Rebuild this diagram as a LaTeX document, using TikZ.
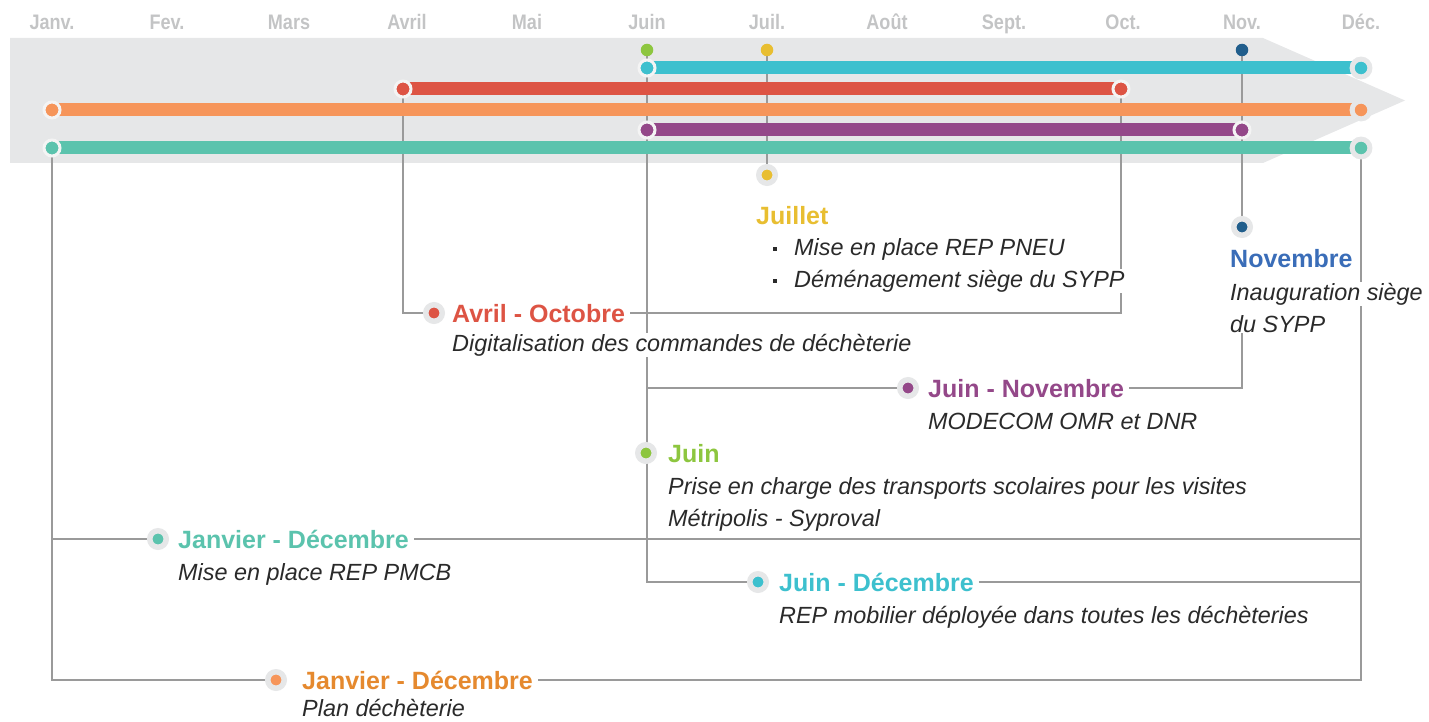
\documentclass[tikz,border=0pt]{standalone}
\usepackage{fontspec}
\setmainfont{Liberation Sans}
\newfontfamily\mfont[FakeStretch=0.86]{Liberation Sans}
\pgfdeclarelayer{bandl}
\pgfdeclarelayer{linel}
\pgfdeclarelayer{barl}
\pgfsetlayers{bandl,linel,barl,main}
\definecolor{band}{HTML}{E6E7E8}
\definecolor{halo}{HTML}{E6E7E8}
\definecolor{ringw}{HTML}{F4F4F4}
\definecolor{monthgray}{HTML}{C3C4C5}
\definecolor{linegray}{HTML}{9A9A9A}
\definecolor{cyanc}{HTML}{3DC0CE}
\definecolor{redc}{HTML}{DD5444}
\definecolor{orangec}{HTML}{F6955A}
\definecolor{oranget}{HTML}{E5892E}
\definecolor{purplec}{HTML}{944889}
\definecolor{tealc}{HTML}{5BC3AD}
\definecolor{greenc}{HTML}{8DC63F}
\definecolor{yellowc}{HTML}{E8BE31}
\definecolor{navyc}{HTML}{215E8C}
\definecolor{bluet}{HTML}{3A6DB8}
\definecolor{txt}{HTML}{2A2A2A}
\tikzset{
  month/.style={text=monthgray, font=\mfont\bfseries\fontsize{21}{22}\selectfont, anchor=base, inner sep=0pt},
  head/.style={font=\bfseries\fontsize{25}{28}\selectfont, anchor=base west, inner xsep=5pt, inner ysep=0pt, text height=18pt, text depth=0pt},
  body/.style={font=\itshape\fontsize{23.4}{28}\selectfont, text=txt, anchor=base west, fill=white, inner xsep=2pt, inner ysep=1pt},
  conn/.style={draw=linegray, line width=1.3pt},
  bar/.style={line width=13pt},
  tdot/.style={circle, inner sep=0pt, minimum size=12.5pt, fill=#1},
  sdot/.style={circle, inner sep=0pt, minimum size=16pt, fill=#1, draw=ringw, line width=3pt},
  edot/.style={circle, inner sep=0pt, minimum size=17.8pt, fill=#1, draw=halo, line width=5pt},
  ldot/.style={circle, inner sep=0pt, minimum size=16.5pt, fill=#1, draw=halo, line width=5.5pt},
}
\newcommand{\bul}{\makebox[21pt][l]{\rule[4.5pt]{3.5pt}{3.5pt}}}
\begin{document}
\begin{tikzpicture}[x=1pt,y=-1pt]
\useasboundingbox (0,0) rectangle (1429,722);
% months
\foreach \n/\x/\t in {1/52/Janv., 2/167/Fev., 3/289/Mars, 4/407/Avril, 5/527/Mai, 6/647/Juin, 7/767/Juil., 8/887/Août, 9/1004/Sept., 10/1123/Oct., 11/1242/Nov., 12/1361/Déc.}
  \node[month] (m\n) at (\x,30) {\t};
% band
\begin{pgfonlayer}{bandl}
\fill[band] (10,38) -- (1263,38) -- (1405,100.5) -- (1263,163) -- (10,163) -- cycle;
\end{pgfonlayer}
% top single dots
\node[tdot=greenc] (gnT) at (647,50) {};
\node[tdot=yellowc] (ylT) at (767,50) {};
\node[tdot=navyc] (nvT) at (1242,50) {};
% bar end dots
\node[sdot=cyanc] (cyS) at (647,68) {};
\node[edot=cyanc] (cyE) at (1361,68) {};
\node[sdot=redc] (rdS) at (403,89) {};
\node[sdot=redc] (rdE) at (1121,89) {};
\node[sdot=orangec] (orS) at (52,110) {};
\node[edot=orangec] (orE) at (1361,110) {};
\node[sdot=purplec] (puS) at (647,130) {};
\node[sdot=purplec] (puE) at (1242,130) {};
\node[sdot=tealc] (teS) at (52,148) {};
\node[edot=tealc] (teE) at (1361,148) {};
% bars
\begin{pgfonlayer}{barl}
\draw[bar, cyanc] (cyS.center) -- (cyE.center);
\draw[bar, redc] (rdS.center) -- (rdE.center);
\draw[bar, orangec] (orS.center) -- (orE.center);
\draw[bar, purplec] (puS.center) -- (puE.center);
\draw[bar, tealc] (teS.center) -- (teE.center);
\end{pgfonlayer}
% Juillet
\node[ldot=yellowc] (ylDot) at (767,175) {};
\node[head, text=yellowc] (ylHead) at (751,224) {Juillet};
\node[body] (ylB1) at (771,255) {\bul Mise en place REP PNEU};
\node[body] (ylB2) at (771,287) {\bul Déménagement siège du SYPP};
% Novembre
\node[ldot=navyc] (nvDot) at (1242,227) {};
\node[head, text=bluet] (nvHead) at (1225,267) {Novembre};
\node[body] (nvB1) at (1228,300) {Inauguration siège};
\node[body] (nvB2) at (1228,332) {du SYPP};
% Avril - Octobre
\node[ldot=redc] (avDot) at (434,313) {};
\node[head, text=redc] (avHead) at (447,322) {Avril - Octobre};
\node[body] (avB1) at (450,351) {Digitalisation des commandes de déchèterie};
% Juin - Novembre
\node[ldot=purplec] (jnDot) at (908,388) {};
\node[head, text=purplec] (jnHead) at (923,397) {Juin - Novembre};
\node[body] (jnB1) at (926,429) {MODECOM OMR et DNR};
% Juin
\node[ldot=greenc] (jDot) at (646,453) {};
\node[head, text=greenc] (jHead) at (663,462) {Juin};
\node[body] (jB1) at (666,494) {Prise en charge des transports scolaires pour les visites};
\node[body] (jB2) at (666,526) {Métripolis - Syproval};
% Janvier - Decembre teal
\node[ldot=tealc] (tdDot) at (158,539) {};
\node[head, text=tealc] (tdHead) at (173,548) {Janvier - Décembre};
\node[body] (tdB1) at (176,580) {Mise en place REP PMCB};
% Juin - Decembre cyan
\node[ldot=cyanc] (jdDot) at (758,582) {};
\node[head, text=cyanc] (jdHead) at (774,591) {Juin - Décembre};
\node[body] (jdB1) at (777,623) {REP mobilier déployée dans toutes les déchèteries};
% Janvier - Decembre orange
\node[ldot=orangec] (odDot) at (276,680) {};
\node[head, text=oranget] (odHead) at (297,689) {Janvier - Décembre};
\node[body] (odB1) at (300,716) {Plan déchèterie};
% connectors
\begin{pgfonlayer}{linel}
\draw[conn] (gnT) |- (jdDot);
\draw[conn] (gnT |- jnDot) -- (jnDot);
\draw[conn] (ylT) -- (ylDot);
\draw[conn] (nvT) -- (nvDot);
\draw[conn] (nvB2.south -| nvDot) |- (jnHead.east);
\draw[conn] (rdS) |- (avDot);
\draw[conn] (rdE) |- (avHead.east);
\draw[conn] (teS) |- (odDot);
\draw[conn] (teS |- tdDot) -- (tdDot);
\draw[conn] (teE) |- (odHead.east);
\draw[conn] (tdHead.east) -- (tdHead.east -| teE);
\draw[conn] (jdHead.east) -- (jdHead.east -| teE);
\end{pgfonlayer}
\end{tikzpicture}
\end{document}
